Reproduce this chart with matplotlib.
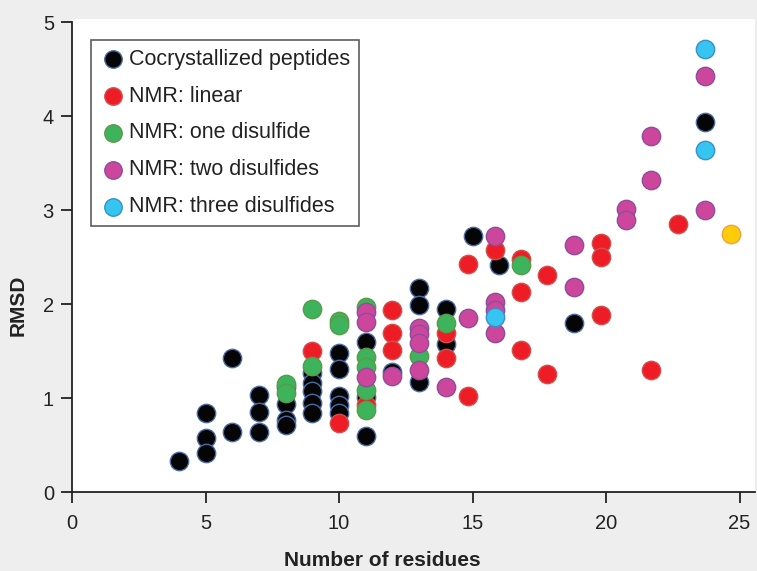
import matplotlib
matplotlib.use("Agg")
import matplotlib.pyplot as plt

# ---- data ----
cocryst_x = [4, 5, 5, 5, 6, 6, 7, 7, 7, 8, 8, 8, 8,
             9, 9, 9, 9, 9, 10, 10, 10, 10, 10, 11, 11, 11,
             12, 13, 13, 13, 14, 14, 15, 16, 18.8, 23.7]
cocryst_y = [0.33, 0.84, 0.57, 0.41, 1.43, 0.64, 1.03, 0.85, 0.64, 1.12, 0.94, 0.77, 0.71,
             1.27, 1.16, 1.07, 0.95, 0.84, 1.48, 1.31, 1.02, 0.93, 0.84, 1.60, 1.01, 0.60,
             1.28, 2.17, 1.99, 1.17, 1.95, 1.57, 2.72, 2.42, 1.80, 3.94]

linear_x = [9, 10, 11, 12, 12, 12, 14, 14, 14.85, 14.85, 15.85,
            16.8, 16.8, 16.8, 17.8, 17.8, 19.8, 19.8, 19.8, 21.7, 22.7]
linear_y = [1.50, 0.73, 0.93, 1.94, 1.69, 1.51, 1.69, 1.43, 2.43, 1.02, 2.57,
            2.48, 2.13, 1.51, 2.31, 1.26, 2.65, 2.50, 1.88, 1.30, 2.85]

one_x = [8, 8, 9, 9, 10, 10, 11, 11, 11, 11, 11, 13, 14, 16.8]
one_y = [1.15, 1.05, 1.95, 1.34, 1.82, 1.78, 1.97, 1.44, 1.33, 1.08, 0.87, 1.45, 1.80, 2.42]

two_x = [11, 11, 11, 12, 13, 13, 13, 13, 14, 14.85, 15.85, 15.85, 15.85, 15.85,
         18.8, 18.8, 20.75, 20.75, 21.7, 21.7, 23.7, 23.7]
two_y = [1.91, 1.81, 1.22, 1.23, 1.75, 1.68, 1.59, 1.30, 1.12, 1.85, 2.72, 2.02, 1.94, 1.69,
         2.63, 2.18, 3.01, 2.89, 3.79, 3.32, 4.43, 3.00]

three_x = [15.85, 23.7, 23.7]
three_y = [1.86, 4.71, 3.64]

other_x = [24.7]
other_y = [2.74]

xticks = [0, 5, 10, 15, 20, 25]
yticks = [0, 1, 2, 3, 4, 5]

plt.rcParams['font.family'] = ['Liberation Sans', 'DejaVu Sans']

fig = plt.figure(figsize=(7.57, 5.71), dpi=100, facecolor='#eeeeee')
ax = fig.add_axes([72 / 757, 1 - 492 / 571, (755 - 72) / 757, (492 - 19) / 571])
ax.set_facecolor('white')

S = 175
series = [
    (cocryst_x, cocryst_y, '#050505', '#4a6aa8', 'Cocrystallized peptides'),
    (linear_x, linear_y, '#ee1d25', '#d05050', 'NMR: linear'),
    (one_x, one_y, '#3db45b', '#5a9a4a', 'NMR: one disulfide'),
    (two_x, two_y, '#cc479c', '#8e4c9c', 'NMR: two disulfides'),
    (three_x, three_y, '#36c5f0', '#3b8fc8', 'NMR: three disulfides'),
]
for xs, ys, fc, ec, lab in series:
    ax.scatter(xs, ys, s=S, c=fc, edgecolors=ec, linewidths=1.0, label=lab, zorder=3)
ax.scatter(other_x, other_y, s=S, c='#ffcc0a', edgecolors='#f0a040', linewidths=1.0, zorder=3)

ax.set_xlim(0, (755 - 72) / 26.7)
ax.set_ylim(0, (492 - 19) / 94.0)
ax.set_xticks(xticks)
ax.set_yticks(yticks)

for side in ['top', 'right']:
    ax.spines[side].set_visible(False)
ax.spines['left'].set_bounds(0, 5)
for side in ['left', 'bottom']:
    ax.spines[side].set_linewidth(1.3)
    ax.spines[side].set_color('#222222')
ax.tick_params(axis='both', direction='out', length=8, width=1.3, color='#222222',
               labelsize=14.5, labelcolor='#222222')
ax.tick_params(axis='x', pad=8)
ax.tick_params(axis='y', pad=5)

fig.text(382 / 757, 1 - 560 / 571, 'Number of residues', fontsize=15, fontweight='bold',
         color='#222222', ha='center', va='center')
fig.text(18 / 757, 1 - 305 / 571, 'RMSD', fontsize=15, fontweight='bold',
         color='#222222', ha='center', va='center', rotation=90)

leg = ax.legend(loc='upper left', bbox_to_anchor=((91 - 72) / 683, 1 - (40 - 19) / 473),
                borderaxespad=0, fontsize=15.5, frameon=True, fancybox=False,
                edgecolor='#333333', labelspacing=0.74, handletextpad=0.17,
                borderpad=0.4, handlelength=1.2, markerscale=0.95)
leg.get_frame().set_linewidth(1.2)
for t in leg.get_texts():
    t.set_color('#222222')

fig.savefig('out.png', dpi=100, facecolor=fig.get_facecolor())
